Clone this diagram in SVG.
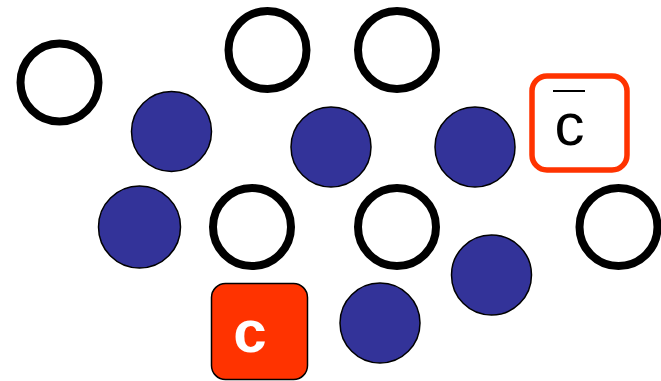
<svg xmlns="http://www.w3.org/2000/svg" width="661" height="381" viewBox="0 0 661 381">
<style>
.open{fill:#ffffff;stroke:#000000;stroke-width:8}
.blue{fill:#333399;stroke:#000000;stroke-width:1.5}
.lbl{font-family:"Liberation Sans",Arial,sans-serif;font-size:60px;text-anchor:middle}
</style>
<rect width="661" height="381" fill="#ffffff"/>
<g id="o1"><circle class="open" cx="59.5" cy="82.5" r="39"/></g>
<g id="o2"><circle class="open" cx="267.5" cy="50" r="39"/></g>
<g id="o3"><circle class="open" cx="397" cy="50" r="39"/></g>
<g id="o4"><circle class="open" cx="252" cy="227" r="39"/></g>
<g id="o5"><circle class="open" cx="397" cy="227" r="39"/></g>
<g id="o6"><circle class="open" cx="618.5" cy="227" r="39"/></g>
<g id="b1"><circle class="blue" cx="171.5" cy="131.5" r="40"/></g>
<g id="b2"><circle class="blue" cx="331" cy="147" r="40"/></g>
<g id="b3"><circle class="blue" cx="475" cy="147" r="40"/></g>
<g id="b4"><circle class="blue" cx="139.5" cy="227" r="41"/></g>
<g id="b5"><circle class="blue" cx="491.5" cy="275" r="40"/></g>
<g id="b6"><circle class="blue" cx="380" cy="323" r="40"/></g>
<g id="cbar">
<rect x="532" y="76" width="95" height="94" rx="15" fill="#ffffff" stroke="#ff3300" stroke-width="5.5"/>
<line x1="553" y1="91" x2="585" y2="91" stroke="#000000" stroke-width="2"/>
<text class="lbl" x="569.5" y="145" fill="#000000">c</text>
</g>
<g id="c">
<rect x="211.5" y="283.5" width="96" height="96" rx="14" fill="#ff3300" stroke="#000000" stroke-width="1.5"/>
<text class="lbl" x="250" y="352" fill="#ffffff" font-weight="bold">c</text>
</g>
<g id="connectors"></g>
</svg>
